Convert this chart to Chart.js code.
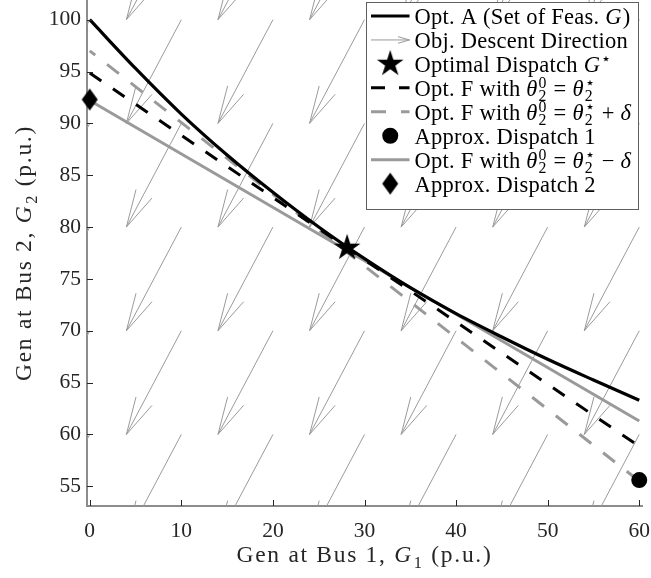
<!DOCTYPE html>
<html>
<head>
<meta charset="utf-8">
<script src="https://cdn.jsdelivr.net/npm/chart.js@4.4.0/dist/chart.umd.min.js"></script>
<style>
  html, body { margin: 0; padding: 0; background: #fff; }
  #wrap { width: 651px; height: 578px; }
</style>
</head>
<body>
<div id="wrap"><canvas id="dispatchChart" width="651" height="578"></canvas></div>
<script>
// Feasible set of generation (Opt. A), sampled along G1
const optAG1 = [0, 5, 10, 15, 20, 25, 30, 35, 40, 45, 50, 55, 60];
const optAG2 = [100.0, 95.3, 90.9, 86.95, 83.35, 80.0, 76.95, 74.15, 71.65, 69.4, 67.25, 65.25, 63.3];

// Linearised sets (Opt. F), end points at G1 = 0 and G1 = 60
const optFG1 = [0, 60];
const optFExactG2 = [94.85, 58.85];
const optFPlusG2 = [97.0, 55.5];
const optFMinusG2 = [92.2, 61.3];

// Dispatch points [G1, G2]
const optimalDispatch = [28.1, 78.0];
const approxDispatch1 = [60, 55.6];
const approxDispatch2 = [0, 92.3];

// Objective descent field: arrow tails on a grid, constant direction
const quiverG1 = [0, 10, 20, 30, 40, 50, 60];
const quiverG2 = [50, 60, 70, 80, 90, 100, 110];
const quiverU = -6;
const quiverV = -10;

const xTicks = [0, 10, 20, 30, 40, 50, 60];
const yTicks = [55, 60, 65, 70, 75, 80, 85, 90, 95, 100];

const SERIF = '"Liberation Serif", "Times New Roman", serif';
const GRAY = '#9a9a9a';
const INK = '#262626';

function fontOf(size, italic) {
    return (italic ? 'italic ' : '') + size + 'px ' + SERIF;
}

// Draws text made of segments: '' normal, 'i' italic, '_' subscript,
// '^' superscript, '_^' stacked subscript|superscript
function drawRich(ctx, segs, x, y, size, align, spacing) {
    const small = size * 0.7;
    const pieces = [];
    let w = 0;
    ctx.letterSpacing = (spacing || 0) + 'px';
    for (const [text, style] of segs) {
        if (style === '_^') {
            const [lo, hi] = text.split('|');
            ctx.font = fontOf(small, false);
            const adv = Math.max(ctx.measureText(lo).width, ctx.measureText(hi).width);
            pieces.push({ x: w, text: lo, font: ctx.font, dy: size * 0.24 });
            pieces.push({ x: w, text: hi, font: ctx.font, dy: -size * 0.36 });
            w += adv + 1;
        } else {
            const sub = style === '_', sup = style === '^';
            ctx.font = fontOf(sub || sup ? small : size, style === 'i');
            pieces.push({ x: w, text: text, font: ctx.font, dy: sub ? size * 0.24 : sup ? -size * 0.36 : 0 });
            w += ctx.measureText(text).width + (style === 'i' ? 1 : 0);
        }
    }
    const x0 = align === 'center' ? x - w / 2 : x;
    ctx.textAlign = 'left';
    ctx.textBaseline = 'alphabetic';
    for (const p of pieces) {
        ctx.font = p.font;
        ctx.fillText(p.text, x0 + p.x, y + p.dy);
    }
    ctx.letterSpacing = '0px';
    return w;
}

function drawArrow(ctx, x0, y0, x1, y1, headLen, headAngle) {
    const ang = Math.atan2(y0 - y1, x0 - x1);
    ctx.beginPath();
    ctx.moveTo(x0, y0);
    ctx.lineTo(x1, y1);
    ctx.moveTo(x1 + headLen * Math.cos(ang + headAngle), y1 + headLen * Math.sin(ang + headAngle));
    ctx.lineTo(x1, y1);
    ctx.lineTo(x1 + headLen * Math.cos(ang - headAngle), y1 + headLen * Math.sin(ang - headAngle));
    ctx.stroke();
}

// Marker images
function makeStar(R) {
    const c = document.createElement('canvas');
    c.width = c.height = Math.ceil(2 * R + 2);
    const g = c.getContext('2d');
    const cx = c.width / 2, cy = c.height / 2;
    g.beginPath();
    for (let k = 0; k < 10; k++) {
        const r = k % 2 === 0 ? R : R * 0.382;
        const a = -Math.PI / 2 + k * Math.PI / 5;
        g.lineTo(cx + r * Math.cos(a), cy + r * Math.sin(a));
    }
    g.closePath();
    g.fillStyle = '#000';
    g.fill();
    return c;
}

function makeDiamond(w, h) {
    const c = document.createElement('canvas');
    c.width = w + 2; c.height = h + 2;
    const g = c.getContext('2d');
    g.beginPath();
    g.moveTo(c.width / 2, 1);
    g.lineTo(c.width - 1, c.height / 2);
    g.lineTo(c.width / 2, c.height - 1);
    g.lineTo(1, c.height / 2);
    g.closePath();
    g.fillStyle = '#000';
    g.fill();
    return c;
}

const starImg = makeStar(14);
const diamondImg = makeDiamond(16, 22);

const pts = (xs, ys) => xs.map((x, i) => ({ x: x, y: ys[i] }));

const thetaEq = [['Opt. F with ', ''], ['θ', 'i'], ['2|0', '_^'], [' = ', ''], ['θ', 'i'], ['2|⋆', '_^']];

const datasets = [
    {
        label: 'Opt. A (Set of Feas. G)',
        rich: [['Opt. A (Set of Feas. ', ''], ['G', 'i'], [')', '']],
        sample: 'line',
        data: pts(optAG1, optAG2),
        showLine: true, borderColor: '#000', borderWidth: 3.2,
        cubicInterpolationMode: 'monotone', pointRadius: 0, order: 1
    },
    {
        label: 'Obj. Descent Direction',
        rich: [['Obj. Descent Direction', '']],
        sample: 'arrow',
        quiver: { u: quiverU, v: quiverV },
        data: quiverG1.flatMap(x => quiverG2.map(y => ({ x: x, y: y }))),
        borderColor: GRAY, pointRadius: 0, order: 6
    },
    {
        label: 'Optimal Dispatch G⋆',
        rich: [['Optimal Dispatch ', ''], ['G', 'i'], ['⋆', '^']],
        sample: 'marker',
        data: [{ x: optimalDispatch[0], y: optimalDispatch[1] }],
        pointStyle: starImg, pointRadius: 14, clip: false, order: 0
    },
    {
        label: 'Opt. F with θ₂⁰ = θ₂⋆',
        rich: thetaEq,
        sample: 'line',
        data: pts(optFG1, optFExactG2),
        showLine: true, borderColor: '#000', borderWidth: 3, borderDash: [14, 14],
        pointRadius: 0, order: 2
    },
    {
        label: 'Opt. F with θ₂⁰ = θ₂⋆ + δ',
        rich: thetaEq.concat([[' + ', ''], ['δ', 'i']]),
        sample: 'line',
        data: pts(optFG1, optFPlusG2),
        showLine: true, borderColor: GRAY, borderWidth: 3, borderDash: [15, 15],
        borderDashOffset: 8, pointRadius: 0, order: 3
    },
    {
        label: 'Approx. Dispatch 1',
        rich: [['Approx. Dispatch 1', '']],
        sample: 'marker',
        data: [{ x: approxDispatch1[0], y: approxDispatch1[1] }],
        pointStyle: 'circle', pointRadius: 8, backgroundColor: '#000', borderWidth: 0,
        clip: false, order: 0
    },
    {
        label: 'Opt. F with θ₂⁰ = θ₂⋆ − δ',
        rich: thetaEq.concat([[' − ', ''], ['δ', 'i']]),
        sample: 'line',
        data: pts(optFG1, optFMinusG2),
        showLine: true, borderColor: GRAY, borderWidth: 3,
        pointRadius: 0, order: 4
    },
    {
        label: 'Approx. Dispatch 2',
        rich: [['Approx. Dispatch 2', '']],
        sample: 'marker',
        data: [{ x: approxDispatch2[0], y: approxDispatch2[1] }],
        pointStyle: diamondImg, pointRadius: 11, clip: false, order: 0
    }
];

// Quiver arrows, drawn under the lines and clipped to the plot area
const quiverPlugin = {
    id: 'quiver',
    beforeDatasetsDraw(chart) {
        const { ctx, chartArea: a, scales: { x, y } } = chart;
        ctx.save();
        ctx.beginPath();
        ctx.rect(a.left, a.top, a.right - a.left, a.bottom - a.top);
        ctx.clip();
        ctx.lineWidth = 1;
        chart.data.datasets.forEach(ds => {
            if (!ds.quiver) return;
            ctx.strokeStyle = ds.borderColor;
            ds.data.forEach(p => {
                const x0 = x.getPixelForValue(p.x), y0 = y.getPixelForValue(p.y);
                const x1 = x.getPixelForValue(p.x + ds.quiver.u), y1 = y.getPixelForValue(p.y + ds.quiver.v);
                const len = Math.hypot(x1 - x0, y1 - y0);
                drawArrow(ctx, x0, y0, x1, y1, 0.33 * len, 13.5 * Math.PI / 180);
            });
        });
        ctx.restore();
    }
};

// Inward tick marks and axis titles
const axisPlugin = {
    id: 'axisDecor',
    afterDraw(chart) {
        const { ctx, chartArea: a, scales: { x, y } } = chart;
        ctx.save();
        ctx.strokeStyle = INK;
        ctx.lineWidth = 1;
        ctx.beginPath();
        x.ticks.forEach(t => {
            const px = Math.round(x.getPixelForValue(t.value)) + 0.5;
            ctx.moveTo(px, a.bottom);
            ctx.lineTo(px, a.bottom - 6);
        });
        y.ticks.forEach(t => {
            const py = Math.round(y.getPixelForValue(t.value)) + 0.5;
            ctx.moveTo(a.left, py);
            ctx.lineTo(a.left + 6, py);
        });
        ctx.stroke();

        ctx.fillStyle = INK;
        drawRich(ctx, [['Gen at Bus 1, ', ''], ['G', 'i'], ['1', '_'], [' (p.u.)', '']],
            (a.left + a.right) / 2, a.bottom + 56, 23.5, 'center', 1.7);
        ctx.translate(a.left - 56, (a.top + a.bottom) / 2);
        ctx.rotate(-Math.PI / 2);
        drawRich(ctx, [['Gen at Bus 2, ', ''], ['G', 'i'], ['2', '_'], [' (p.u.)', '']],
            0, 0, 23.5, 'center', 1.7);
        ctx.restore();
    }
};

// Boxed legend in the upper right corner
const legendPlugin = {
    id: 'richLegend',
    afterDraw(chart) {
        const { ctx, chartArea: a } = chart;
        const bx = a.right - 275.5, by = a.top + 2.5, bw = 272, bh = 207;
        ctx.save();
        ctx.fillStyle = '#fff';
        ctx.fillRect(bx, by, bw, bh);
        ctx.strokeStyle = '#5f5f5f';
        ctx.lineWidth = 1;
        ctx.strokeRect(bx, by, bw, bh);

        const x0 = bx + 4.5, x1 = bx + 43, mid = (x0 + x1) / 2, tx = bx + 48;
        chart.data.datasets.forEach((ds, i) => {
            const base = by + 21.5 + i * 23.95;
            const cy = base - 8;
            if (ds.sample === 'line') {
                ctx.strokeStyle = ds.borderColor;
                ctx.lineWidth = ds.borderWidth;
                ctx.setLineDash(ds.borderDash || []);
                ctx.beginPath();
                ctx.moveTo(x0, cy);
                ctx.lineTo(x1, cy);
                ctx.stroke();
                ctx.setLineDash([]);
            } else if (ds.sample === 'arrow') {
                ctx.strokeStyle = ds.borderColor;
                ctx.lineWidth = 1;
                drawArrow(ctx, x0, cy, x1, cy, 12, 16 * Math.PI / 180);
            } else if (ds.pointStyle === 'circle') {
                ctx.fillStyle = '#000';
                ctx.beginPath();
                ctx.arc(mid, cy, ds.pointRadius, 0, 2 * Math.PI);
                ctx.fill();
            } else {
                const img = ds.pointStyle;
                ctx.drawImage(img, mid - img.width / 2, cy - img.height / 2);
            }
            ctx.fillStyle = '#000';
            drawRich(ctx, ds.rich, tx, base, 22.5, 'left', 0.25);
        });
        ctx.restore();
    }
};

const tickFont = { family: SERIF, size: 21.5 };

new Chart(document.getElementById('dispatchChart'), {
    type: 'scatter',
    data: { datasets: datasets },
    options: {
        responsive: false,
        animation: false,
        events: [],
        layout: { autoPadding: false, padding: { top: 0, right: 9, bottom: 0, left: 0 } },
        plugins: { legend: { display: false }, tooltip: { enabled: false } },
        scales: {
            x: {
                type: 'linear', min: -0.3, max: 60.3,
                afterBuildTicks: s => { s.ticks = xTicks.map(v => ({ value: v })); },
                afterFit: s => {
                    s.height = 72;
                    s.paddingLeft = 0;
                    s.paddingRight = 0;
                },
                grid: { drawOnChartArea: false, drawTicks: false },
                border: { color: '#8c8c8c', width: 2 },
                ticks: { font: tickFont, color: INK, padding: 12, maxRotation: 0, autoSkip: false }
            },
            y: {
                type: 'linear', min: 53.1, max: 101.9,
                afterBuildTicks: s => { s.ticks = yTicks.map(v => ({ value: v })); },
                afterFit: s => {
                    s.width = 87;
                    s.paddingTop = 0;
                    s.paddingBottom = 0;
                },
                grid: { drawOnChartArea: false, drawTicks: false },
                border: { color: '#8c8c8c', width: 2 },
                ticks: { font: tickFont, color: INK, padding: 6, autoSkip: false }
            }
        }
    },
    plugins: [quiverPlugin, axisPlugin, legendPlugin]
});
</script>
</body>
</html>
